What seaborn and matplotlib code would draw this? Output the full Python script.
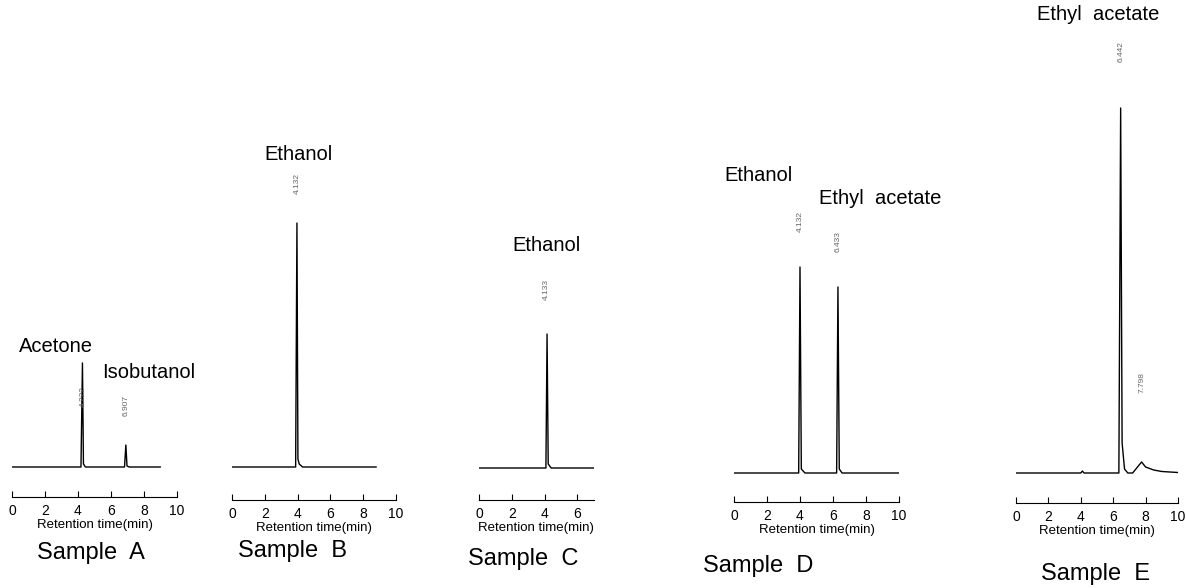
import numpy as np
import matplotlib
matplotlib.use("Agg")
import matplotlib.pyplot as plt
import seaborn as sns

sns.set_theme(style="white")
plt.rcParams['font.family'] = ['Liberation Sans', 'DejaVu Sans']
plt.rcParams['text.color'] = 'black'
plt.rcParams['axes.labelcolor'] = 'black'
plt.rcParams['xtick.color'] = 'black'

## 数据: 每个样品的色谱曲线 (保留时间 min, 信号 相对值)
samples = ["Sample A", "Sample B", "Sample C", "Sample D", "Sample E"]

time_a = [0, 4.18, 4.27, 4.33, 4.45, 6.82, 6.9, 6.97, 7.1, 9.0]
sig_a = [0, 0, 104, 3, 0, 0, 22, 1, 0, 0]

time_b = [0, 3.88, 3.96, 4.02, 4.1, 4.3, 8.8]
sig_b = [0, 0, 244, 8, 3, 0, 0]

time_c = [0, 4.08, 4.15, 4.22, 4.4, 7.1]
sig_c = [0, 0, 134, 4, 0, 0]

time_d = [0, 3.92, 4.0, 4.08, 4.3, 6.22, 6.3, 6.38, 6.55, 10]
sig_d = [0, 0, 206, 4, 0, 0, 186, 4, 0, 0]

time_e = [0, 4.0, 4.1, 4.2, 6.35, 6.46, 6.55, 6.7, 6.9, 7.2, 7.45, 7.75, 8.0, 8.5, 9.0, 9.5, 10]
sig_e = [0, 0, 2, 0, 0, 365, 30, 4, 0, 0, 5, 11, 6, 3, 1.5, 1, 0.5]

# 峰名称 / 保留时间标注
peak_names = [["Acetone", "Isobutanol"], ["Ethanol"], ["Ethanol"],
              ["Ethanol", "Ethyl  acetate"], ["Ethyl  acetate"]]
rt_labels = [["4.222", "6.907"], ["4.132"], ["4.133"],
             ["4.132", "6.433"], ["6.442", "7.798"]]

xticks_all = [[0, 2, 4, 6, 8, 10]] * 2 + [[0, 2, 4, 6]] + [[0, 2, 4, 6, 8, 10]] * 2
xmax_all = [10, 10, 7, 10, 10]

## 版面 (像素)
W, H = 1186, 588
# (x0, 像素/min, 基线 y, 刻度尺 y)
layout = [(12, 16.5, 467, 497), (232, 16.4, 467, 500), (479, 16.4, 468, 500),
          (734, 16.5, 473, 502), (1016, 16.2, 473, 503)]
name_pos = [[(56, 347), (149, 372)], [(299, 155)], [(547, 245)],
            [(758, 175), (880, 198)], [(1098, 15)]]
rt_pos = [[(83, 397), (126, 405)], [(297, 183)], [(546, 290)],
          [(800, 221), (838, 242)], [(1121, 52), (1142, 383)]]
sample_pos = [(91, 553), (292, 551), (523, 559), (758, 566), (1096, 574)]

traces = [(time_a, sig_a), (time_b, sig_b), (time_c, sig_c),
          (time_d, sig_d), (time_e, sig_e)]

fig = plt.figure(figsize=(W / 100, H / 100), dpi=100)
m = 3  # 基线下方留白 px

for i, (t, s) in enumerate(traces):
    x0, ppm, base, scale = layout[i]
    width = xmax_all[i] * ppm
    ax = fig.add_axes([x0 / W, (H - base - m) / H, width / W, (base + m) / H])
    sns.lineplot(x=t, y=s, ax=ax, color="black", linewidth=1.0,
                 estimator=None, sort=False)
    ax.set_xlim(0, xmax_all[i])
    ax.set_ylim(-m, base)
    ax.patch.set_alpha(0)
    for side in ["left", "right", "top"]:
        ax.spines[side].set_visible(False)
    ax.spines["bottom"].set_position(("outward", (scale - base - m) * 0.72))
    ax.spines["bottom"].set_linewidth(0.8)
    ax.spines["bottom"].set_color("black")
    ax.set_yticks([])
    ax.set_xticks(xticks_all[i])
    ax.tick_params(axis="x", direction="in", length=4, width=0.8,
                   color="black", labelsize=10, pad=5, bottom=True)
    ax.set_xlabel("Retention time(min)", fontsize=9.5, labelpad=1)
    ax.set_ylabel("")

    for name, (px, py) in zip(peak_names[i], name_pos[i]):
        fig.text(px / W, 1 - py / H, name, fontsize=14.5, ha="center", va="center")
    for rt, (px, py) in zip(rt_labels[i], rt_pos[i]):
        fig.text(px / W, 1 - py / H, rt, fontsize=6, color="#666666",
                 rotation=90, ha="center", va="center")
    sx, sy = sample_pos[i]
    fig.text(sx / W, 1 - sy / H, samples[i].replace(" ", "  "), fontsize=17,
             ha="center", va="center")

fig.savefig("out.png", dpi=100)
